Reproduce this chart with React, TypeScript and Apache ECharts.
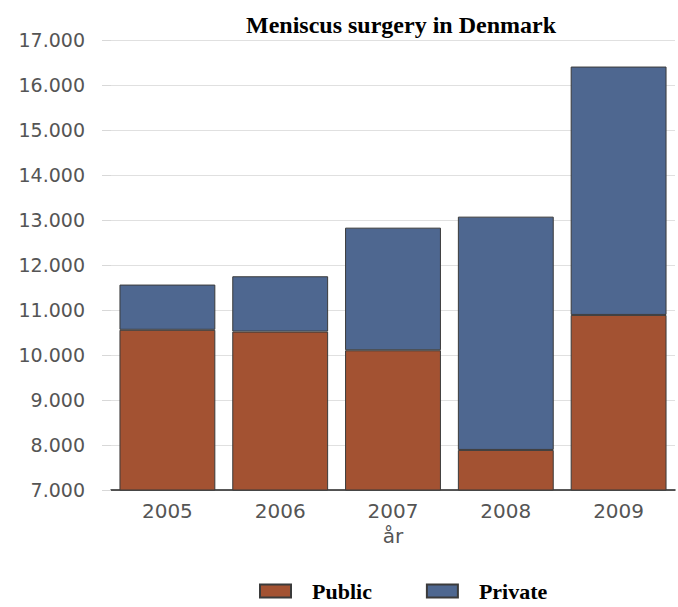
import React, { useEffect, useRef } from "react";
import * as echarts from "echarts";

const years = ["2005", "2006", "2007", "2008", "2009"];
const publicOps = [10560, 10520, 10105, 7890, 10890];
const privateOps = [1005, 1230, 2725, 5185, 5520];
const yTicks = { min: 7000, max: 17000, interval: 1000 };

export default function App() {
  const ref = useRef<HTMLDivElement>(null);
  useEffect(() => {
    if (!ref.current) return;
    const chart = echarts.init(ref.current, undefined, { renderer: "svg" });
    const border = { borderColor: "#3b3b3b", borderWidth: 1 };
    chart.setOption({
      animation: false,
      backgroundColor: "#ffffff",
      title: {
        text: "Meniscus surgery in Denmark",
        left: 396,
        top: 8,
        textAlign: "center",
        textStyle: {
          fontFamily: "Liberation Serif",
          fontWeight: "bold",
          fontSize: 24,
          color: "#000",
        },
      },
      legend: {
        left: 259,
        top: 580,
        padding: 0,
        itemWidth: 31,
        itemHeight: 13,
        itemGap: 54,
        icon: "rect",
        textStyle: {
          fontFamily: "Liberation Serif",
          fontWeight: "bold",
          fontSize: 22,
          lineHeight: 22,
          color: "#000",
          padding: [0, 0, 0, 16],
        },
        data: ["Public", "Private"],
      },
      grid: { left: 111, right: 3, top: 40, bottom: 117 },
      xAxis: {
        type: "category",
        data: years,
        name: "år",
        nameLocation: "middle",
        nameGap: 35,
        nameTextStyle: { fontFamily: "DejaVu Sans", fontSize: 20, color: "#555" },
        axisLine: { lineStyle: { color: "#222", width: 1.5 } },
        axisTick: { alignWithLabel: true, length: 5, lineStyle: { color: "#333" } },
        axisLabel: { fontFamily: "DejaVu Sans", fontSize: 20, color: "#555", margin: 11 },
      },
      yAxis: {
        type: "value",
        min: yTicks.min,
        max: yTicks.max,
        interval: yTicks.interval,
        axisLine: { show: false },
        axisTick: { show: true, length: 9, lineStyle: { color: "#d8d8d8" } },
        splitLine: { lineStyle: { color: "#e0e0e0", width: 1 } },
        axisLabel: {
          fontFamily: "DejaVu Sans",
          fontSize: 19,
          color: "#555",
          margin: 26,
          formatter: (v: number) => {
            const s = String(Math.round(v));
            return s.replace(/\B(?=(\d{3})+(?!\d))/g, ".");
          },
        },
      },
      series: [
        {
          name: "Public",
          type: "bar",
          stack: "total",
          data: publicOps,
          barCategoryGap: "15%",
          itemStyle: { color: "#a35232", ...border },
        },
        {
          name: "Private",
          type: "bar",
          stack: "total",
          data: privateOps,
          barCategoryGap: "15%",
          itemStyle: { color: "#4e6790", ...border },
        },
      ],
    });
    return () => chart.dispose();
  }, []);
  return <div ref={ref} style={{ width: 678, height: 607, position: "absolute", left: 0, top: 0 }} />;
}
